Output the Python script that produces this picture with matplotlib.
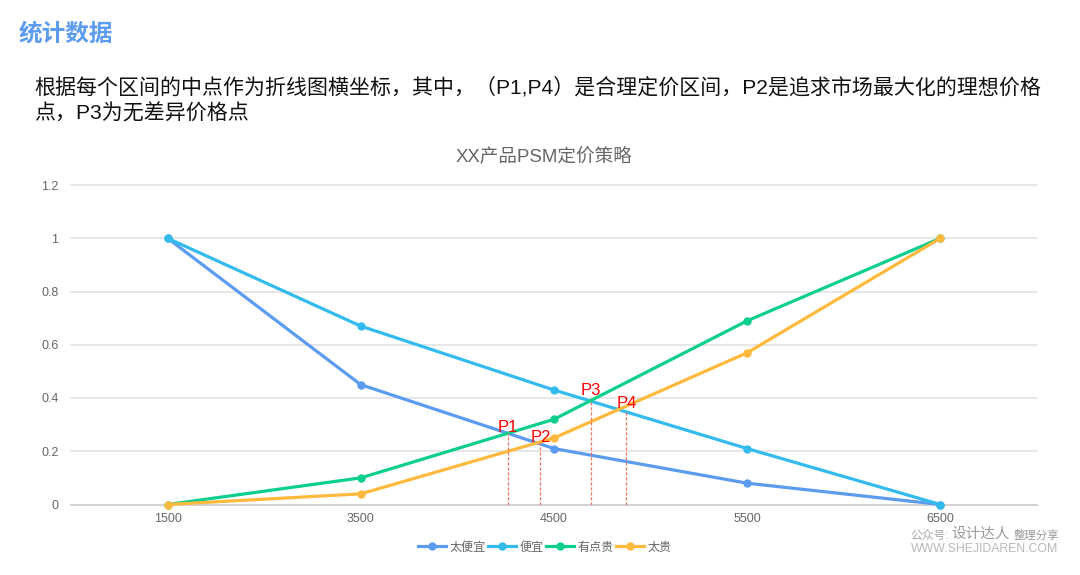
# PSM pricing chart

import matplotlib
matplotlib.use('Agg')
import matplotlib.pyplot as plt

plt.rcParams['font.family'] = ['Liberation Sans', 'Noto Sans CJK SC', 'DejaVu Sans']

# Data

prices = ['1500', '3500', '4500', '5500', '6500']
too_cheap = [1, 0.45, 0.21, 0.08, 0]
cheap = [1, 0.67, 0.43, 0.21, 0]
a_bit_dear = [0, 0.1, 0.32, 0.69, 1]
too_dear = [0, 0.04, 0.25, 0.57, 1]

y_ticks = [0, 0.2, 0.4, 0.6, 0.8, 1, 1.2]
y_labels = ['0', '0.2', '0.4', '0.6', '0.8', '1', '1.2']

p_names = ['P1', 'P2', 'P3', 'P4']
p_x = [1.76, 1.93, 2.19, 2.375]
p_y = [0.269, 0.235, 0.393, 0.355]
p_label_y = [0.29, 0.25, 0.428, 0.38]

# Figure

W, H = 1080, 575
fig = plt.figure(figsize=(W / 100, H / 100), dpi=100)
ax = fig.add_axes([71 / W, 1 - 504.5 / H, 966 / W, 319.5 / H])

ax.set_xlim(-0.5, 4.5)
ax.set_ylim(0, 1.2)

for s in ['top', 'left', 'right']:
    ax.spines[s].set_visible(False)
ax.spines['bottom'].set_color('#cccccc')
ax.spines['bottom'].set_linewidth(1.1)

ax.set_yticks(y_ticks)
ax.set_yticklabels(y_labels)
ax.set_xticks(range(len(prices)))
ax.set_xticklabels(prices)
ax.tick_params(length=0, labelsize=9, labelcolor='#666666')
ax.tick_params(axis='x', pad=6)
ax.tick_params(axis='y', pad=9)
ax.grid(axis='y', color='#e0e0e0', linewidth=1.1)
for g in ax.get_ygridlines():
    g.set_clip_on(False)
ax.set_axisbelow(True)

x = list(range(len(prices)))
series = [
    (too_cheap, '太便宜', '#5b9bf0'),
    (cheap, '便宜', '#33bbee'),
    (a_bit_dear, '有点贵', '#0cce8f'),
    (too_dear, '太贵', '#ffb93c'),
]
for vals, name, col in series:
    ax.plot(x, vals, color=col, linewidth=2.3, marker='o', markersize=5,
            label=name, clip_on=False, zorder=3)

# P markers with dashed drop lines

for name, px, py, ly in zip(p_names, p_x, p_y, p_label_y):
    ax.plot([px, px], [0, py], color='#f4735c', linewidth=0.9,
            linestyle=(0, (2.5, 1.5)), zorder=4)
    ax.text(px, ly, name, color='#ff0000', fontsize=12, ha='center',
            va='center', zorder=5)

ax.legend(loc='center', bbox_to_anchor=(545 / W, 1 - 547.5 / H),
          bbox_transform=fig.transFigure, ncol=4, frameon=False, fontsize=8.7,
          labelcolor='#666666', handlelength=2.3, handletextpad=0.3,
          columnspacing=0.2, borderpad=0)

# Header text

fig.text(19 / W, 1 - 34 / H, '统计数据', color='#5b9bf0', fontsize=17,
         fontweight='bold', va='center')
fig.text(34 / W, 1 - 87 / H,
         '根据每个区间的中点作为折线图横坐标，其中，（P1,P4）是合理定价区间，P2是追求市场最大化的理想价格',
         color='#111111', fontsize=15.1, va='center')
fig.text(34 / W, 1 - 113.5 / H, '点，P3为无差异价格点', color='#111111', fontsize=15.1,
         va='center')
fig.text(544 / W, 1 - 156.5 / H, 'XX产品PSM定价策略', color='#666666', fontsize=13.4,
         ha='center', va='center')

# Watermark

fig.text(910 / W, 1 - 536 / H, '公众号:', color='#a8a8a8', fontsize=8.5, va='center')
fig.text(951 / W, 1 - 534 / H, '设计达人', color='#999999', fontsize=10.5, va='center')
fig.text(1014 / W, 1 - 535 / H, '整理分享', color='#999999', fontsize=8.2, va='center')
fig.text(911 / W, 1 - 549 / H, 'WWW.SHEJIDAREN.COM', color='#b8b8b8', fontsize=8.8,
         va='center')

fig.savefig('out.png', dpi=100)
